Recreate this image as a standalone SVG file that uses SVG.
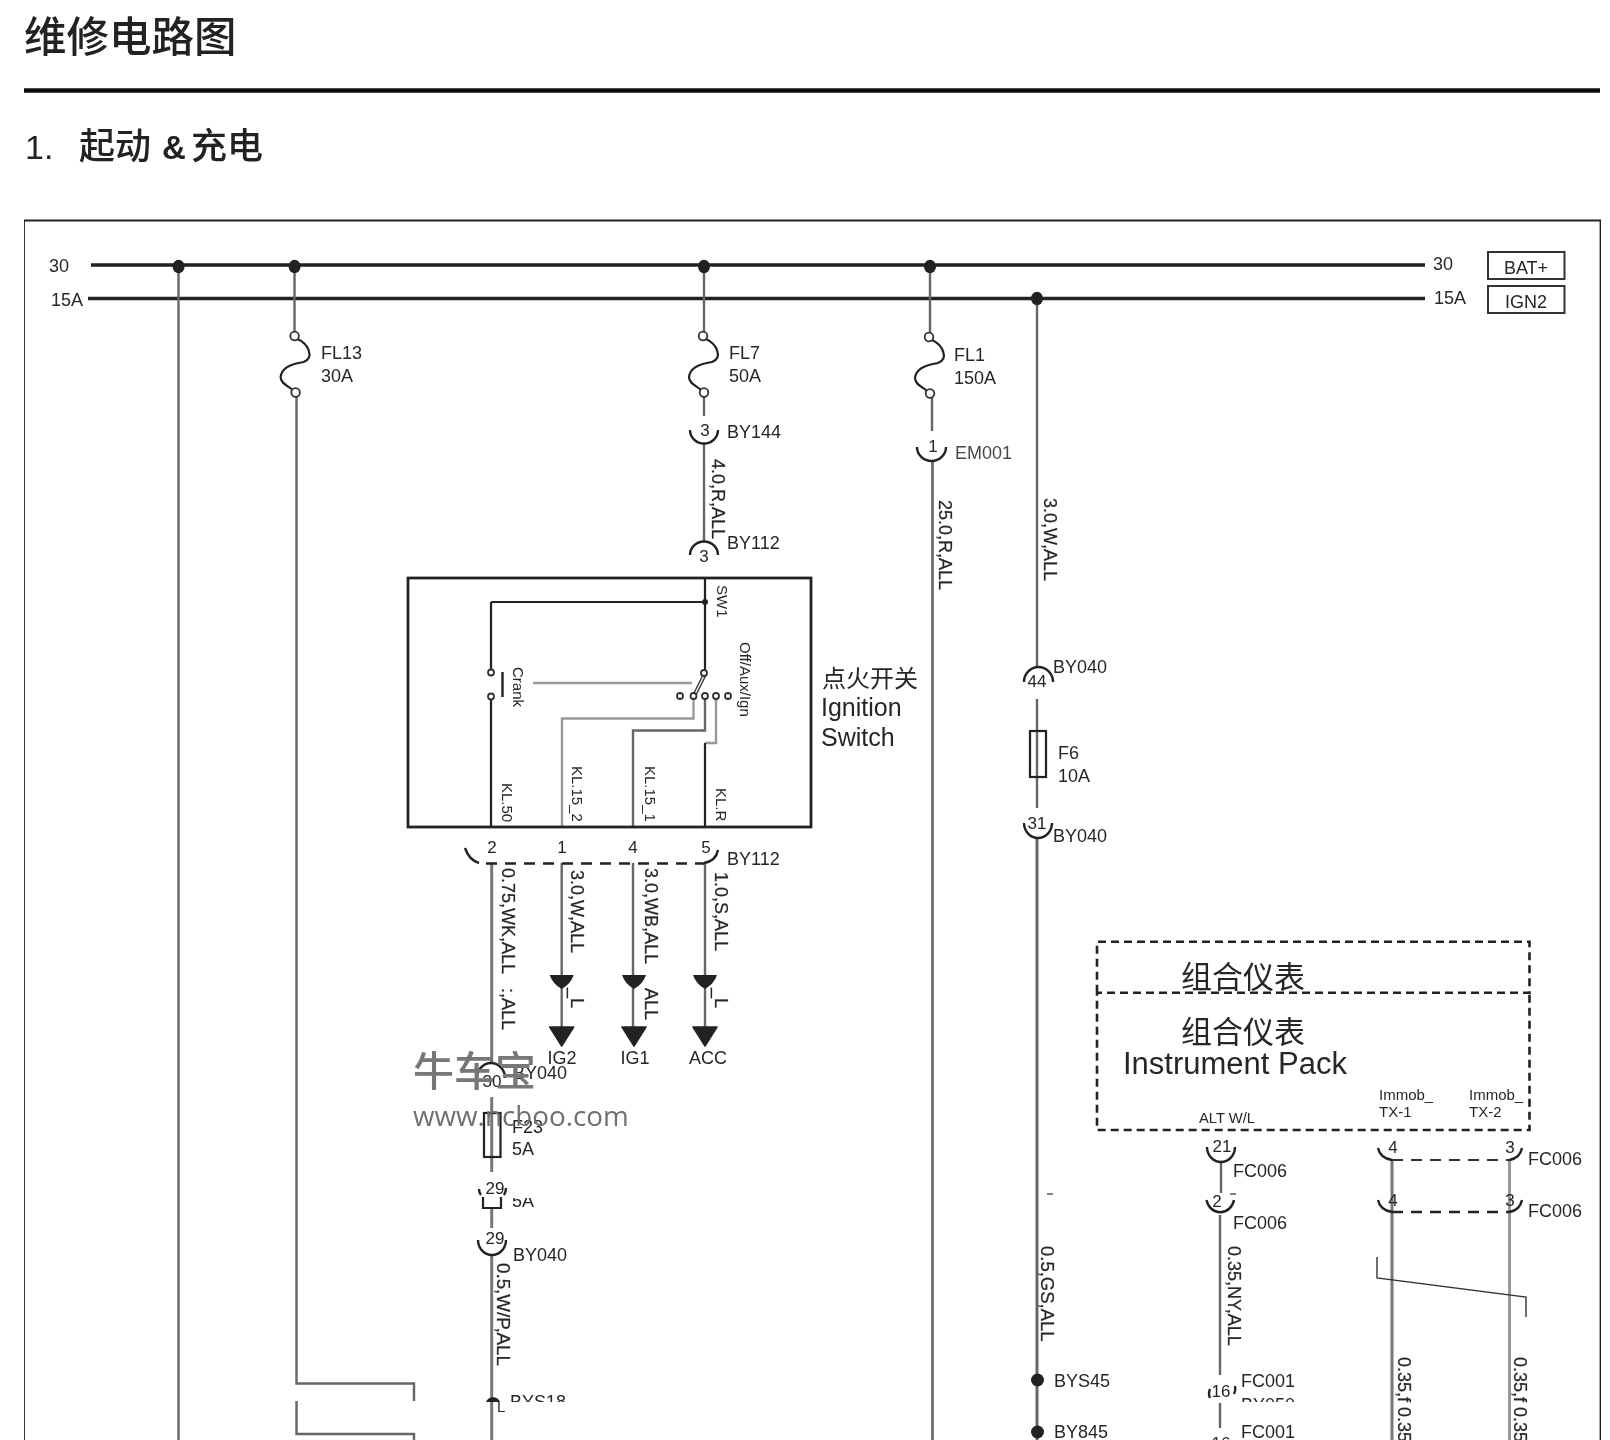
<svg xmlns="http://www.w3.org/2000/svg" width="1610" height="1440" viewBox="0 0 1610 1440">
<style>
text{font-family:"Liberation Sans",Arial,sans-serif;fill:#262626}
.cjk{font-family:"Noto Sans CJK SC","Liberation Sans",sans-serif}
.l{font-size:18px}
.w{font-size:18px;stroke:#262626;stroke-width:.25}
.k{font-size:15px}
.n{font-size:17px;text-anchor:middle}
.m{fill:none;stroke:#222;stroke-width:2.2}
.g{fill:none;stroke:#666;stroke-width:2.4}
.lg{fill:none;stroke:#999;stroke-width:2.4}
.bk{fill:none;stroke:#222;stroke-width:2.2}
.arc{fill:none;stroke:#222;stroke-width:2.4}
.bus{fill:none;stroke:#222;stroke-width:3.6}
.o{fill:#fff;stroke:#333;stroke-width:1.8}
.d{fill:#222}
.dash{fill:none;stroke:#222;stroke-width:2.6;stroke-dasharray:11 8}
</style>
<defs>
<g id="fuseS"><path class="m" d="M3 3C14 8 20 22 9 26C2 27 -13 30 -14 41C-14 48 -6 50 -2 54"/><circle class="o" cx="0" cy="0" r="4.300"/><circle class="o" cx="1" cy="56.500" r="4.300"/></g>
<path id="tri" class="d" d="M-12 0H12L0 19Z" stroke="#222" stroke-linejoin="round" stroke-width="1.500"/>
<path id="tri2" class="d" d="M-12 0H12Q9 9 0 14Q-9 9 -12 0Z"/>
<clipPath id="c1"><rect x="1100" y="945" width="430" height="46"/></clipPath>
<clipPath id="c2"><rect x="480" y="1380" width="120" height="22"/></clipPath>
<clipPath id="c3"><rect x="1235" y="1390" width="60" height="12"/></clipPath>
<clipPath id="c4"><rect x="500" y="1198" width="40" height="20"/></clipPath>
<clipPath id="c5"><rect x="1205" y="1425" width="40" height="15"/></clipPath>
<filter id="soft" x="0" y="0" width="100%" height="100%"><feGaussianBlur stdDeviation="0.45"/></filter>
</defs>
<rect width="1610" height="1440" fill="#fff"/>
<g filter="url(#soft)">
<g id="header">
<text class="cjk" x="24" y="52" font-size="42.500" font-weight="500" style="fill:#222">维修电路图</text>
<line x1="24" y1="90.500" x2="1600" y2="90.500" stroke="#111" stroke-width="4.500"/>
<text x="25" y="159" font-size="34" font-weight="500" style="fill:#222">1.</text>
<text class="cjk" x="79" y="159" font-size="36" font-weight="500" style="fill:#222">起动</text>
<text x="162" y="159" font-size="33" font-weight="700" style="fill:#222">&amp;</text>
<text class="cjk" x="191" y="159" font-size="36" font-weight="500" style="fill:#222">充电</text>
<path d="M24 1440V220.500H1600.500V1440" fill="none" stroke="#222" stroke-width="1.800"/>
</g>
<g id="connectors">
<path class="bus" d="M91 265H1425M88 298.500H1425"/>
<path class="g" d="M178.500 265V1440"/>
<path class="g" d="M294.500 265V332M296.500 396V1383.500H414V1401M296.500 1401V1434H414V1440"/>
<path class="g" d="M704 265V332M704 396V416M704 443V542"/>
<path class="g" d="M930 265V333M932 398V431"/>
<path class="g" style="stroke-width:3;stroke:#777" d="M932.500 461V1440"/>
<path class="g" d="M1037 298V667M1037 699V808"/>
<path class="g" style="stroke-width:3" d="M1037 838V1440"/>
<path class="bk" d="M705 578V670M491 602H705M491 602V669.500M491 700V827"/>
<path class="lg" d="M533 683H692"/>
<path class="lg" d="M693.500 699V718.500H562V827"/>
<path class="g" d="M705 699V730.500H633V827"/>
<path class="lg" d="M716 699V743H705"/>
<path class="bk" d="M705 743V827"/>
<path class="g" style="stroke-width:3;stroke:#777" d="M491.700 863V1062M491.700 1097V1172M491.700 1208V1228M491.700 1255V1440"/>
<path class="g" d="M561.700 863V1030M633 863V1030M705 863V1030"/>
<path class="g" d="M1221 1162V1193M1220 1215V1375M1220 1403V1428"/>
<path class="g" style="stroke-width:3;stroke:#777" d="M1392 1160V1440"/>
<path class="lg" style="stroke-width:3" d="M1509.500 1160V1440"/>
<path d="M1377 1257V1278L1526 1297V1317" fill="none" stroke="#333" stroke-width="1.400"/>
<line x1="1047" y1="1194" x2="1053" y2="1194" stroke="#555" stroke-width="1.500"/>
<line x1="1230" y1="1194" x2="1236" y2="1194" stroke="#555" stroke-width="1.500"/>
</g>
<g id="dots">
<ellipse class="d" cx="178.600" cy="266.500" rx="6" ry="6.800"/>
<ellipse class="d" cx="294.600" cy="266.500" rx="6" ry="6.800"/>
<ellipse class="d" cx="704" cy="266.500" rx="6" ry="6.800"/>
<ellipse class="d" cx="930" cy="266.500" rx="6" ry="6.800"/>
<ellipse class="d" cx="1037" cy="298.500" rx="6" ry="6.800"/>
</g>
<g id="bus-labels">
<text class="l" x="49" y="272">30</text>
<text class="l" x="51" y="306">15A</text>
<text class="l" x="1433" y="270">30</text>
<text class="l" x="1434" y="304">15A</text>
</g>
<g id="bat"><rect x="1488" y="252" width="76.500" height="27" fill="#fff" stroke="#333" stroke-width="2"/><text class="l" x="1526" y="274" text-anchor="middle">BAT+</text></g>
<g id="ign2"><rect x="1488" y="286" width="76.500" height="27" fill="#fff" stroke="#333" stroke-width="2"/><text class="l" x="1526" y="308" text-anchor="middle">IGN2</text></g>
<g id="FL13"><use href="#fuseS" x="294.600" y="336"/><text class="l" x="321" y="359">FL13</text><text class="l" x="321" y="382">30A</text></g>
<g id="FL7"><use href="#fuseS" x="703" y="336"/><text class="l" x="729" y="359">FL7</text><text class="l" x="729" y="382">50A</text></g>
<g id="FL1"><use href="#fuseS" x="929" y="337"/><text class="l" x="954" y="361">FL1</text><text class="l" x="954" y="384">150A</text></g>
<g id="BY144"><path class="arc" d="M690 430A14 13.500 0 0 0 718 430"/><text class="n" x="705" y="436">3</text><text class="l" x="727" y="438">BY144</text></g>
<g id="BY112-top"><path class="arc" d="M690 555A14 13.500 0 0 1 718 555"/><text class="n" x="704" y="562">3</text><text class="l" x="727" y="549">BY112</text></g>
<g id="EM001"><path class="arc" d="M917 447A14.500 14 0 0 0 946 447"/><text class="n" x="933" y="452">1</text><text class="l" x="955" y="459" style="fill:#4a4a4a">EM001</text></g>
<g id="wire-labels">
<text class="w" transform="translate(712 459) rotate(90)">4.0,R,ALL</text>
<text class="w" transform="translate(939 500) rotate(90)">25.0,R,ALL</text>
<text class="w" transform="translate(1043.500 498) rotate(90)">3.0,W,ALL</text>
<text class="w" transform="translate(502 868) rotate(90)">0.75,WK,ALL</text>
<text class="w" transform="translate(502 988) rotate(90)">:,ALL</text>
<text class="w" transform="translate(571 870) rotate(90)">3.0,W,ALL</text>
<text class="w" transform="translate(645 868) rotate(90)">3.0,WB,ALL</text>
<text class="w" transform="translate(715 872) rotate(90)">1.0,S,ALL</text>
<text class="w" transform="translate(571 988) rotate(90)">_L</text>
<text class="w" transform="translate(645 988) rotate(90)">ALL</text>
<text class="w" transform="translate(715 988) rotate(90)">_L</text>
<text class="w" transform="translate(497 1263) rotate(90)" style="font-size:18.800px">0.5,W/P,ALL</text>
<text class="w" transform="translate(1041 1246) rotate(90)" style="font-size:18.500px">0.5,GS,ALL</text>
<text class="w" transform="translate(1228 1246) rotate(90)">0.35,NY,ALL</text>
<text class="w" transform="translate(1398 1357) rotate(90)">0.35,f 0.35</text>
<text class="w" transform="translate(1514 1357) rotate(90)">0.35,f 0.35</text>
</g>
<g id="ignition-switch">
<rect x="408" y="578" width="403" height="249" fill="none" stroke="#222" stroke-width="2.800"/>
<circle class="d" cx="705" cy="602" r="3"/>
<circle class="o" cx="491" cy="672.500" r="3"/><circle class="o" cx="491" cy="696.500" r="3"/>
<line x1="502.500" y1="672" x2="502.500" y2="697" stroke="#222" stroke-width="2.400"/>
<path d="M704 673L693 695M706 675L695 697" stroke="#333" stroke-width="1.400" fill="none"/>
<circle class="o" cx="704" cy="673" r="3"/>
<circle class="o" cx="680" cy="696" r="3"/><circle class="o" cx="693.500" cy="696" r="3"/><circle class="o" cx="705" cy="696" r="3"/><circle class="o" cx="716" cy="696" r="3"/><circle class="o" cx="728" cy="696" r="3"/>
<text class="k" transform="translate(513 667) rotate(90)">Crank</text>
<text class="k" transform="translate(717 585) rotate(90)">SW1</text>
<text class="k" transform="translate(740 642) rotate(90)">Off/Aux/Ign</text>
<text class="k" transform="translate(502 783) rotate(90)">KL.50</text>
<text class="k" transform="translate(572 766) rotate(90)">KL.15_2</text>
<text class="k" transform="translate(645 766) rotate(90)">KL.15_1</text>
<text class="k" transform="translate(716 788) rotate(90)">KL.R</text>
<text class="cjk" x="822" y="687" font-size="24">点火开关</text>
<text x="821" y="716" font-size="25">Ignition</text>
<text x="821" y="746" font-size="25">Switch</text>
</g>
<g id="BY112-bottom">
<path class="arc" d="M465 848Q469 860 479 863"/>
<path class="arc" d="M718 850Q716 861 704 863"/>
<path class="dash" d="M486 863.500H704"/>
<text class="n" x="492" y="853">2</text><text class="n" x="562" y="853">1</text><text class="n" x="633" y="853">4</text><text class="n" x="706" y="853">5</text>
<text class="l" x="727" y="865">BY112</text>
</g>
<g id="IG2"><use href="#tri2" x="561.700" y="975"/><use href="#tri" x="561.700" y="1027"/><text class="l" x="562" y="1064" text-anchor="middle">IG2</text></g>
<g id="IG1"><use href="#tri2" x="634" y="975"/><use href="#tri" x="634" y="1027"/><text class="l" x="635" y="1064" text-anchor="middle">IG1</text></g>
<g id="ACC"><use href="#tri2" x="705" y="975"/><use href="#tri" x="705" y="1027"/><text class="l" x="708" y="1064" text-anchor="middle">ACC</text></g>
<g id="BY040-30"><path class="arc" d="M477 1078A14 15 0 0 1 505 1078"/><text class="n" x="492" y="1087">30</text><text class="l" x="513" y="1079">BY040</text></g>
<g id="F23"><rect x="484" y="1113" width="16.500" height="44" fill="none" stroke="#222" stroke-width="2.200"/><text class="l" x="512" y="1133">F23</text><text class="l" x="512" y="1155">5A</text></g>
<g id="BY040-29a">
<path class="arc" d="M479 1189Q479 1193 481 1195M506 1188Q506 1192 504 1195"/>
<text class="n" x="495" y="1194">29</text>
<path class="bk" d="M483 1197V1208H501V1197"/>
<text class="l" x="512" y="1207" clip-path="url(#c4)">5A</text>
</g>
<g id="BY040-29b"><path class="arc" d="M478 1240A14 15 0 0 0 506 1240"/><text class="n" x="495" y="1244">29</text><text class="l" x="513" y="1261">BY040</text></g>
<g id="BYS18">
<path class="d" d="M486 1402A7.500 7.500 0 0 1 500 1402Z"/>
<g clip-path="url(#c2)"><text class="l" x="510" y="1408">BYS18</text></g>
<text x="497" y="1412" font-size="15">L</text>
</g>
<g id="BY040-44"><path class="arc" d="M1024 682A14.500 15 0 0 1 1053 682"/><text class="n" x="1037" y="687">44</text><text class="l" x="1053" y="673">BY040</text></g>
<g id="F6"><rect x="1030" y="731" width="16" height="46" fill="none" stroke="#222" stroke-width="2.200"/><text class="l" x="1058" y="759">F6</text><text class="l" x="1058" y="782">10A</text></g>
<g id="BY040-31"><path class="arc" d="M1024 823A14 15 0 0 0 1052 823"/><text class="n" x="1037" y="829">31</text><text class="l" x="1053" y="842">BY040</text></g>
<g id="BYS45-1"><circle class="d" cx="1037.500" cy="1380" r="6.500"/><text class="l" x="1054" y="1387">BYS45</text></g>
<g id="BYS45-2"><circle class="d" cx="1037.500" cy="1432" r="6.500"/><text class="l" x="1054" y="1438">BY845</text></g>
<g id="instrument-pack">
<path class="dash" style="stroke-dasharray:8 5" d="M1097 992.700V941.700H1529.500V992.700H1097V1130H1529.500V992.700"/>
<text class="cjk" x="1243" y="988" font-size="31" text-anchor="middle" clip-path="url(#c1)">组合仪表</text>
<text class="cjk" x="1243" y="1043" font-size="31" text-anchor="middle">组合仪表</text>
<text x="1123" y="1074" font-size="31">Instrument Pack</text>
<text x="1199" y="1123" font-size="15" textLength="56" lengthAdjust="spacingAndGlyphs">ALT W/L</text>
<text x="1379" y="1100" font-size="15">Immob_</text><text x="1379" y="1117" font-size="15">TX-1</text>
<text x="1469" y="1100" font-size="15">Immob_</text><text x="1469" y="1117" font-size="15">TX-2</text>
</g>
<g id="FC006-21"><path class="arc" d="M1207 1147A14 15 0 0 0 1235 1147"/><text class="n" x="1222" y="1152">21</text><text class="l" x="1233" y="1177">FC006</text></g>
<g id="FC006-2"><path class="arc" d="M1206.500 1200A14 15 0 0 0 1234 1200"/><text class="n" x="1217" y="1207">2</text><text class="l" x="1233" y="1229">FC006</text></g>
<g id="FC001-16">
<path class="arc" d="M1210 1389Q1208 1394 1210 1398M1235 1386Q1236 1390 1234 1394"/>
<text class="n" x="1221" y="1397">16</text>
<text class="l" x="1241" y="1387">FC001</text>
<g clip-path="url(#c3)"><text class="l" x="1241" y="1411">BY050</text></g>
</g>
<g id="FC001-16b"><g clip-path="url(#c5)"><text class="n" x="1221" y="1449">16</text></g><text class="l" x="1241" y="1438">FC001</text></g>
<g id="FC006-pair-1">
<path class="arc" d="M1378 1148Q1380 1158 1392 1160M1522 1148Q1520 1158 1509.500 1160"/>
<path d="M1392 1160H1510" fill="none" stroke="#333" stroke-width="1.800" stroke-dasharray="11 8"/>
<text class="n" x="1393" y="1153">4</text><text class="n" x="1510" y="1153">3</text>
<text class="l" x="1528" y="1165">FC006</text>
</g>
<g id="FC006-pair-2">
<path class="arc" d="M1378 1200Q1380 1210 1392 1212M1522 1200Q1520 1210 1509.500 1212"/>
<path d="M1392 1212H1510" fill="none" stroke="#222" stroke-width="2.600" stroke-dasharray="11 8"/>
<text class="n" x="1393" y="1206">4</text><text class="n" x="1510" y="1206">3</text>
<text class="l" x="1528" y="1217">FC006</text>
</g>
<g id="watermark">
<text class="cjk" x="413" y="1086" font-size="41" font-weight="500" style="fill:#777">牛车宝</text>
<text x="413" y="1126" style="font-family:'Open Sans',sans-serif;fill:#6f6f6f" font-size="27.800">www.ncboo.com</text>
</g>
</g>
</svg>
